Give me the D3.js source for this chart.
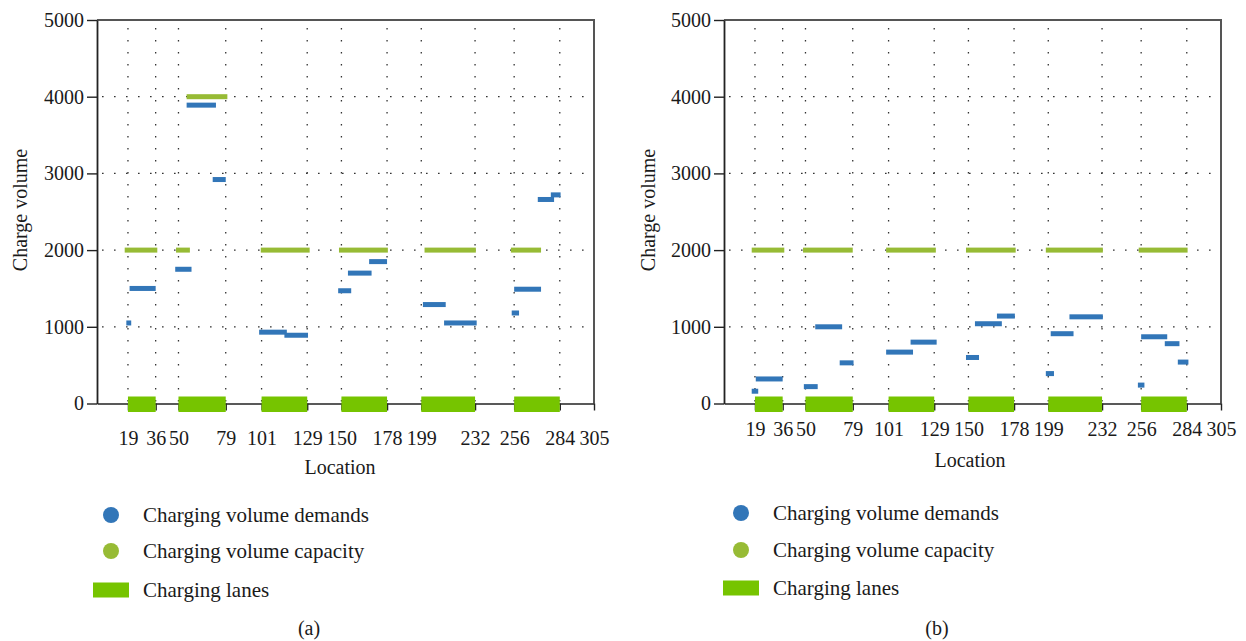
<!DOCTYPE html>
<html>
<head>
<meta charset="utf-8">
<script src="https://cdn.jsdelivr.net/npm/d3@7"></script>
<style>
  html, body { margin: 0; padding: 0; background: #fff; }
  svg { display: block; }
  svg text { font-family: "Liberation Serif", "DejaVu Serif", "Noto Serif", serif !important; fill: #1a1a1a; }
</style>
</head>
<body>
<svg id="chart" width="1246" height="641"></svg>
<script>
// ---------- data ----------
const xTicks = [19, 36, 50, 79, 101, 129, 150, 178, 199, 232, 256, 284, 305];
const yTicks = [0, 1000, 2000, 3000, 4000, 5000];
const laneStart = [19, 50, 101, 150, 199, 256];
const laneEnd   = [36, 79, 129, 178, 232, 284];

// panel (a)
const capStartA = [17, 48.5, 55, 100.5, 148.5, 201, 254];
const capEndA   = [37, 57, 80, 130.5, 178.5, 232.5, 272.5];
const capValA   = [2000, 2000, 4000, 2000, 2000, 2000, 2000];
const demStartA = [18, 20, 48, 55, 71, 99.5, 115, 148, 154, 167, 200, 213, 254.5, 256, 270.5, 278.5];
const demEndA   = [21, 36, 58, 73, 79, 116.5, 129.5, 156, 168.5, 178, 214, 233, 259, 272.5, 280.5, 284.5];
const demValA   = [1050, 1500, 1750, 3890, 2920, 930, 890, 1470, 1700, 1850, 1290, 1050, 1180, 1490, 2660, 2720];

// panel (b)
const capStartB = [17, 48.5, 99.5, 148.5, 197.5, 254.5];
const capEndB   = [37, 79, 130, 179, 232.5, 284.5];
const capValB   = [2000, 2000, 2000, 2000, 2000, 2000];
const demStartB = [17, 19.5, 49, 56, 71, 99.5, 114.5, 148.5, 154, 167.5, 197.5, 200.5, 212, 254, 256, 270.5, 278.5];
const demEndB   = [21, 36, 57.5, 72.5, 79.5, 116, 130.5, 156.5, 170.5, 178.5, 202.5, 214.5, 232.5, 258, 272, 279.5, 285];
const demValB   = [160, 320, 220, 1000, 530, 670, 800, 600, 1040, 1140, 390, 910, 1130, 240, 870, 780, 540];

const legendLabels = ["Charging volume demands", "Charging volume capacity", "Charging lanes"];
const xTitle = "Location";
const yTitle = "Charge volume";

// ---------- styles ----------
const FONT = "'Liberation Serif', 'DejaVu Serif', serif";
const C_DEM = "#3276b8";
const C_CAP = "#97bb35";
const C_LANE = "#76c400";

const svg = d3.select("#chart");

function panel(o) {
  const g = svg.append("g").attr("font-family", FONT);
  const x = d3.scaleLinear().domain([0, 305]).range([o.left, o.right]);
  const y = d3.scaleLinear().domain([0, 5000]).range([o.bottom, 20]);
  const y0 = y(0);

  // grid
  const grid = g.append("g").attr("stroke", "#333").attr("stroke-width", 1.3)
    .attr("stroke-dasharray", "1.6,10.4");
  grid.selectAll("line.v").data(xTicks.slice(0, -1)).join("line")
    .attr("x1", d => x(d)).attr("x2", d => x(d))
    .attr("y1", y(5000) + 8).attr("y2", y0);
  grid.selectAll("line.h").data([1000, 2000, 3000, 4000]).join("line")
    .attr("x1", x(0) + 5).attr("x2", x(305))
    .attr("y1", d => y(d)).attr("y2", d => y(d));

  // border top/right
  g.append("path")
    .attr("d", `M${x(0)},${y(5000)}H${x(305)}V${y0}`)
    .attr("fill", "none").attr("stroke", "#555").attr("stroke-width", 2);

  // axes
  const xa = g.append("g").attr("transform", `translate(0,${y0})`)
    .call(d3.axisBottom(x).tickValues(xTicks).tickSize(7).tickSizeOuter(0)
      .tickPadding(o.xPad).tickFormat(d3.format("d")));
  xa.attr("font-family", FONT).attr("font-size", 20);
  xa.select(".domain").attr("stroke", "#222").attr("stroke-width", 1.6);
  xa.selectAll(".tick line").attr("stroke", "#222").attr("stroke-width", 1.4);

  const ya = g.append("g").attr("transform", `translate(${x(0)},0)`)
    .call(d3.axisLeft(y).tickValues(yTicks).tickSize(10).tickSizeOuter(0)
      .tickPadding(3).tickFormat(d3.format("d")));
  ya.attr("font-family", FONT).attr("font-size", 20);
  ya.select(".domain").attr("stroke", "#222").attr("stroke-width", 1.8);
  ya.selectAll(".tick line").attr("stroke", "#222").attr("stroke-width", 1.4);

  // lanes
  g.append("g").selectAll("rect").data(laneStart).join("rect")
    .attr("x", (d, i) => x(d)).attr("width", (d, i) => x(laneEnd[i]) - x(d))
    .attr("y", y0 - 7).attr("height", 15.5).attr("fill", C_LANE);

  // capacity
  g.append("g").selectAll("rect").data(o.capVal).join("rect")
    .attr("x", (d, i) => x(o.capStart[i]))
    .attr("width", (d, i) => x(o.capEnd[i]) - x(o.capStart[i]))
    .attr("y", d => y(d) - 2.5).attr("height", 5).attr("fill", C_CAP);

  // demands
  g.append("g").selectAll("rect").data(o.demVal).join("rect")
    .attr("x", (d, i) => x(o.demStart[i]))
    .attr("width", (d, i) => x(o.demEnd[i]) - x(o.demStart[i]))
    .attr("y", d => y(d) - 2.5).attr("height", 5).attr("fill", C_DEM);

  // titles
  g.append("text").attr("x", o.xTitleX).attr("y", o.xTitleY)
    .attr("text-anchor", "middle").attr("dominant-baseline", "central")
    .attr("font-size", 20).text(xTitle);
  g.append("text").attr("transform", `translate(${o.yTitleX},${o.yTitleY}) rotate(-90)`)
    .attr("text-anchor", "middle").attr("dominant-baseline", "central")
    .attr("font-size", 20).text(yTitle);

  // legend
  const lg = g.append("g");
  const ly = o.legendY;
  lg.append("circle").attr("cx", o.legendX + 18).attr("cy", ly[0]).attr("r", 8).attr("fill", C_DEM);
  lg.append("circle").attr("cx", o.legendX + 18).attr("cy", ly[1]).attr("r", 8).attr("fill", C_CAP);
  lg.append("rect").attr("x", o.legendX).attr("y", ly[2] - 7.5).attr("width", 36).attr("height", 15).attr("fill", C_LANE);
  lg.selectAll("text").data(legendLabels).join("text")
    .attr("x", o.legendX + 50).attr("y", (d, i) => ly[i])
    .attr("dominant-baseline", "central").attr("font-size", 21).text(d => d);

  // caption
  g.append("text").attr("x", o.capX).attr("y", 628)
    .attr("text-anchor", "middle").attr("dominant-baseline", "central")
    .attr("font-size", 20).text(o.caption);
}

panel({
  left: 97, right: 594, bottom: 403.5, xPad: 20,
  capStart: capStartA, capEnd: capEndA, capVal: capValA,
  demStart: demStartA, demEnd: demEndA, demVal: demValA,
  xTitleX: 340, xTitleY: 467, yTitleX: 20, yTitleY: 210,
  legendX: 93, legendY: [515, 551, 590], capX: 309, caption: "(a)"
});
panel({
  left: 724, right: 1221, bottom: 403.5, xPad: 11,
  capStart: capStartB, capEnd: capEndB, capVal: capValB,
  demStart: demStartB, demEnd: demEndB, demVal: demValB,
  xTitleX: 970, xTitleY: 460, yTitleX: 648, yTitleY: 210,
  legendX: 723, legendY: [513, 550, 588], capX: 937, caption: "(b)"
});
</script>
</body>
</html>
